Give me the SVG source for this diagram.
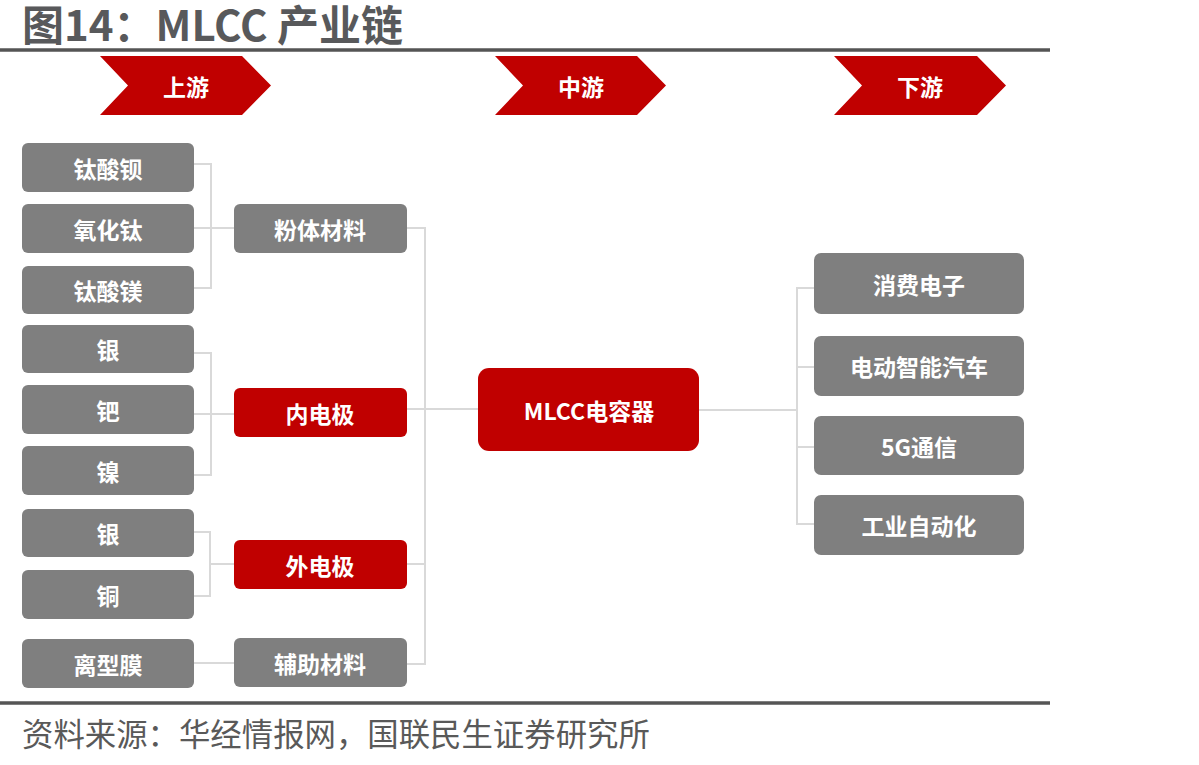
<svg xmlns="http://www.w3.org/2000/svg" width="1199" height="765" viewBox="0 0 1199 765">
<style>
text{font-family:"Noto Sans CJK SC","Noto Sans",sans-serif}
.t{fill:#fff;font-size:23px;font-weight:bold;text-anchor:middle;dominant-baseline:central}
.g{fill:#7f7f7f}
.r{fill:#c00000}
.c{fill:none;stroke:#d9d9d9;stroke-width:2}
.rule{stroke:#555;stroke-width:3.5}
</style>
<rect width="1199" height="765" fill="#fff"/>
<text x="22" y="41" font-size="42" font-weight="bold" fill="#58595b">图14：MLCC 产业链</text>
<line class="rule" x1="0" y1="50" x2="1050" y2="50"/>
<g id="stage-up"><polygon class="r" points="100,56 242,56 271,85.5 242,115 100,115 128,85.5"/><text class="t" x="186" y="86">上游</text></g>
<g id="stage-mid"><polygon class="r" points="495,56 637,56 666,85.5 637,115 495,115 523,85.5"/><text class="t" x="581" y="86">中游</text></g>
<g id="stage-down"><polygon class="r" points="834,56 977,56 1006,85.5 977,115 834,115 862,85.5"/><text class="t" x="920" y="86">下游</text></g>
<g id="connectors">
<path class="c" d="M194,164 H211 V288 H194 M194,228 H234"/>
<path class="c" d="M194,353 H211 V475 H194 M194,414 H234"/>
<path class="c" d="M194,532 H210 V596 H194 M210,564 H234"/>
<path class="c" d="M194,663 H234"/>
<path class="c" d="M407,228 H425 V664 H407 M407,409 H478 M407,564 H425"/>
<path class="c" d="M699,410 H797 M814,288 H797 V524 H814 M797,367 H814 M797,447 H814"/>
</g>
<g id="n1"><rect class="g" x="22" y="143" width="172" height="49" rx="6"/><text class="t" x="108" y="168">钛酸钡</text></g>
<g id="n2"><rect class="g" x="22" y="204" width="172" height="49" rx="6"/><text class="t" x="108" y="229">氧化钛</text></g>
<g id="n3"><rect class="g" x="22" y="266" width="172" height="48" rx="6"/><text class="t" x="108" y="290">钛酸镁</text></g>
<g id="n4"><rect class="g" x="22" y="325" width="172" height="48" rx="6"/><text class="t" x="108" y="349">银</text></g>
<g id="n5"><rect class="g" x="22" y="385" width="172" height="49" rx="6"/><text class="t" x="108" y="410">钯</text></g>
<g id="n6"><rect class="g" x="22" y="446" width="172" height="49" rx="6"/><text class="t" x="108" y="471">镍</text></g>
<g id="n7"><rect class="g" x="22" y="509" width="172" height="48" rx="6"/><text class="t" x="108" y="533">银</text></g>
<g id="n8"><rect class="g" x="22" y="570" width="172" height="49" rx="6"/><text class="t" x="108" y="595">铜</text></g>
<g id="n9"><rect class="g" x="22" y="639" width="172" height="49" rx="6"/><text class="t" x="108" y="664">离型膜</text></g>
<g id="m1"><rect class="g" x="234" y="204" width="173" height="49" rx="6"/><text class="t" x="320" y="229">粉体材料</text></g>
<g id="m2"><rect class="r" x="234" y="388" width="173" height="49" rx="6"/><text class="t" x="320" y="413">内电极</text></g>
<g id="m3"><rect class="r" x="234" y="540" width="173" height="49" rx="6"/><text class="t" x="320" y="565">外电极</text></g>
<g id="m4"><rect class="g" x="234" y="638" width="173" height="49" rx="6"/><text class="t" x="320" y="663">辅助材料</text></g>
<g id="mlcc"><rect class="r" x="478" y="368" width="221" height="83" rx="11"/><text class="t" x="589" y="410">MLCC电容器</text></g>
<g id="d1"><rect class="g" x="814" y="253" width="210" height="61" rx="7"/><text class="t" x="919" y="284">消费电子</text></g>
<g id="d2"><rect class="g" x="814" y="336" width="210" height="60" rx="7"/><text class="t" x="919" y="366">电动智能汽车</text></g>
<g id="d3"><rect class="g" x="814" y="416" width="210" height="59" rx="7"/><text class="t" x="919" y="446">5G通信</text></g>
<g id="d4"><rect class="g" x="814" y="495" width="210" height="60" rx="7"/><text class="t" x="919" y="525">工业自动化</text></g>
<line class="rule" x1="0" y1="703" x2="1050" y2="703"/>
<text x="22" y="746" font-size="31.4" fill="#595959">资料来源：华经情报网，国联民生证券研究所</text>
</svg>
